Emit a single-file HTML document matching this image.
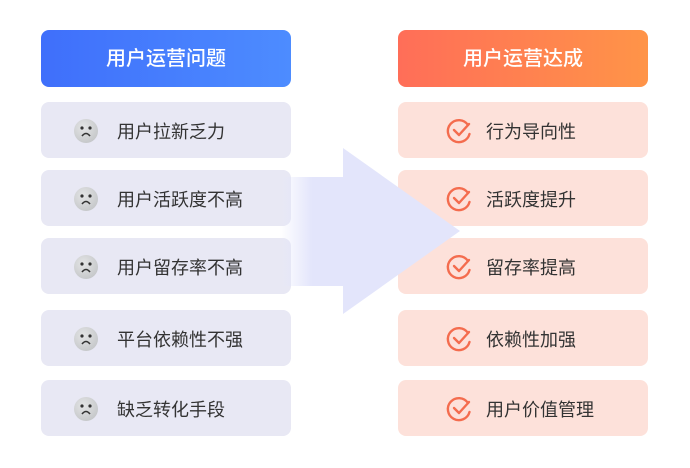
<!DOCTYPE html>
<html><head><meta charset="utf-8"><style>
body{margin:0;width:690px;height:468px;background:#fff;position:relative;overflow:hidden;font-family:"Liberation Sans","Noto Sans CJK SC",sans-serif}
.b{position:absolute;border-radius:8px;box-sizing:border-box}
.h{color:#fff;font-size:20px;text-align:center;line-height:58px;top:30px;height:57px;width:250px;font-weight:500}
.l{left:41px;width:250px;background:#e8e8f4;color:#333;font-size:18px}
.r{left:398px;width:250px;background:#fde1da;color:#333;font-size:18px}
.t{position:absolute;top:2px;line-height:56px}
</style></head><body>
<div class="b h" style="left:41px;background:linear-gradient(90deg,#3f6ffb,#4d8cff)">用户运营问题</div>
<div class="b h" style="left:398px;background:linear-gradient(90deg,#ff6e58,#ff9448)">用户运营达成</div>

<div class="b l" style="top:102px;height:56px"><span class="t" style="left:76px">用户拉新乏力</span></div>
<div class="b l" style="top:170px;height:56px"><span class="t" style="left:76px">用户活跃度不高</span></div>
<div class="b l" style="top:238px;height:56px"><span class="t" style="left:76px">用户留存率不高</span></div>
<div class="b l" style="top:310px;height:56px"><span class="t" style="left:76px">平台依赖性不强</span></div>
<div class="b l" style="top:380px;height:56px"><span class="t" style="left:76px">缺乏转化手段</span></div>

<div class="b r" style="top:102px;height:56px"><span class="t" style="left:88px">行为导向性</span></div>
<div class="b r" style="top:170px;height:56px"><span class="t" style="left:88px">活跃度提升</span></div>
<div class="b r" style="top:238px;height:56px"><span class="t" style="left:88px">留存率提高</span></div>
<div class="b r" style="top:310px;height:56px"><span class="t" style="left:88px">依赖性加强</span></div>
<div class="b r" style="top:380px;height:56px"><span class="t" style="left:88px">用户价值管理</span></div>

<svg width="690" height="468" style="position:absolute;left:0;top:0">
<defs><linearGradient id="g" x1="0" x2="1"><stop offset="0" stop-color="#e3e5fb" stop-opacity="0"/><stop offset="0.5" stop-color="#e3e5fb"/></linearGradient>
<radialGradient id="f" cx="0.4" cy="0.35" r="0.7"><stop offset="0" stop-color="#e4e5e6"/><stop offset="1" stop-color="#c4c6c8"/></radialGradient></defs>
<rect x="280" y="177" width="64" height="109" fill="url(#g)"/>
<polygon points="343,148 460,231 343,314" fill="#e3e5fb"/>
<g>
<g transform="translate(86,131)"><circle r="12" fill="url(#f)"/><circle cx="-4" cy="-3" r="1.6" fill="#333"/><circle cx="4" cy="-3" r="1.6" fill="#333"/><path d="M-4,5 Q0,0 4,5" stroke="#333" stroke-width="1.6" fill="none"/></g>
<g transform="translate(86,199)"><circle r="12" fill="url(#f)"/><circle cx="-4" cy="-3" r="1.6" fill="#333"/><circle cx="4" cy="-3" r="1.6" fill="#333"/><path d="M-4,5 Q0,0 4,5" stroke="#333" stroke-width="1.6" fill="none"/></g>
<g transform="translate(86,267)"><circle r="12" fill="url(#f)"/><circle cx="-4" cy="-3" r="1.6" fill="#333"/><circle cx="4" cy="-3" r="1.6" fill="#333"/><path d="M-4,5 Q0,0 4,5" stroke="#333" stroke-width="1.6" fill="none"/></g>
<g transform="translate(86,339)"><circle r="12" fill="url(#f)"/><circle cx="-4" cy="-3" r="1.6" fill="#333"/><circle cx="4" cy="-3" r="1.6" fill="#333"/><path d="M-4,5 Q0,0 4,5" stroke="#333" stroke-width="1.6" fill="none"/></g>
<g transform="translate(86,409)"><circle r="12" fill="url(#f)"/><circle cx="-4" cy="-3" r="1.6" fill="#333"/><circle cx="4" cy="-3" r="1.6" fill="#333"/><path d="M-4,5 Q0,0 4,5" stroke="#333" stroke-width="1.6" fill="none"/></g>
</g>
<g fill="none" stroke="#f46c4e" stroke-width="2.4" stroke-linecap="round" stroke-linejoin="round">
<g transform="translate(459,131)"><path d="M9,-6 A11,11 0 1 0 10.5,3"/><path d="M-5,-1 L0,4 L10,-7"/></g>
<g transform="translate(459,199)"><path d="M9,-6 A11,11 0 1 0 10.5,3"/><path d="M-5,-1 L0,4 L10,-7"/></g>
<g transform="translate(459,267)"><path d="M9,-6 A11,11 0 1 0 10.5,3"/><path d="M-5,-1 L0,4 L10,-7"/></g>
<g transform="translate(459,339)"><path d="M9,-6 A11,11 0 1 0 10.5,3"/><path d="M-5,-1 L0,4 L10,-7"/></g>
<g transform="translate(459,409)"><path d="M9,-6 A11,11 0 1 0 10.5,3"/><path d="M-5,-1 L0,4 L10,-7"/></g>
</g>
</svg>
</body></html>
